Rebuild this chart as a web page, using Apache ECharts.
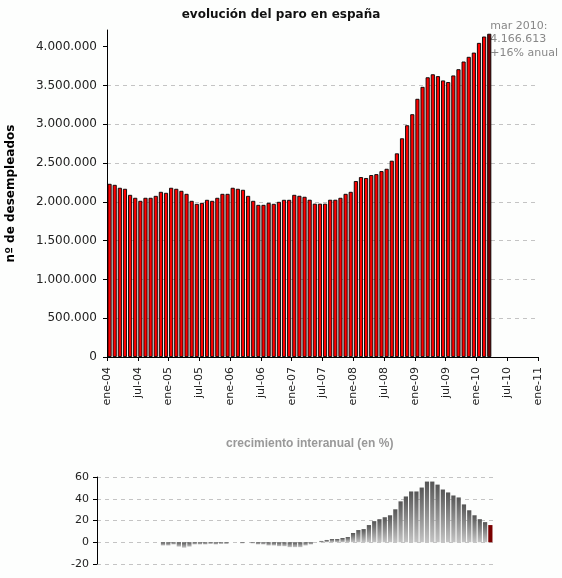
<!DOCTYPE html>
<html><head><meta charset="utf-8">
<script src="https://cdn.jsdelivr.net/npm/echarts@6/dist/echarts.min.js"></script>
<style>html,body{margin:0;padding:0;background:#fdfefd}#c{width:562px;height:578px}</style>
</head><body><div id="c"></div>
<script>
const months = [
 'ene-04','feb-04','mar-04','abr-04','may-04','jun-04','jul-04','ago-04','sep-04','oct-04','nov-04','dic-04',
 'ene-05','feb-05','mar-05','abr-05','may-05','jun-05','jul-05','ago-05','sep-05','oct-05','nov-05','dic-05',
 'ene-06','feb-06','mar-06','abr-06','may-06','jun-06','jul-06','ago-06','sep-06','oct-06','nov-06','dic-06',
 'ene-07','feb-07','mar-07','abr-07','may-07','jun-07','jul-07','ago-07','sep-07','oct-07','nov-07','dic-07',
 'ene-08','feb-08','mar-08','abr-08','may-08','jun-08','jul-08','ago-08','sep-08','oct-08','nov-08','dic-08',
 'ene-09','feb-09','mar-09','abr-09','may-09','jun-09','jul-09','ago-09','sep-09','oct-09','nov-09','dic-09',
 'ene-10','feb-10','mar-10'
];
const unemployed = [
 2232000,2219000,2181000,2168000,2090000,2052000,2013000,2052000,2052000,2077000,2129000,2116000,
 2181000,2168000,2142000,2103000,2013000,1974000,1987000,2026000,2013000,2052000,2103000,2103000,
 2181000,2168000,2155000,2077000,2013000,1961000,1961000,1987000,1974000,2000000,2026000,2026000,
 2090000,2078000,2065000,2027000,1976000,1976000,1976000,2027000,2027000,2052000,2103000,2129000,
 2268000,2319000,2307000,2345000,2357000,2396000,2426000,2530000,2625000,2819000,2987000,3129000,
 3327800,3481900,3605400,3644000,3620100,3564900,3544100,3629100,3709400,3808400,3868900,3923600,
 4048500,4130600,4166613
];
const growth = [
 null,null,null,null,null,null,null,null,null,null,null,null,
 -3,-3,-2,-4,-5,-4,-2,-2,-2,-1.5,-2,-1.5,
 -1.5,0,0,-1,0,-1,-2,-2,-3,-3,-3.6,-3.6,
 -4.5,-4.5,-4.5,-3,-2,0,1.2,2.1,3.0,3.0,3.9,4.8,
 8.5,11.2,12.1,15.8,19.4,21.2,23.0,24.8,30.3,37.6,42.1,46.7,
 46.7,50.3,55.8,55.8,53.0,48.5,45.8,43.0,41.2,34.8,29.4,24.8,
 21.2,18.5,15.8
];
const xTickLabels = ['ene-04','jul-04','ene-05','jul-05','ene-06','jul-06','ene-07','jul-07','ene-08','jul-08','ene-09','jul-09','ene-10','jul-10','ene-11'];
const yTicks = [0,500000,1000000,1500000,2000000,2500000,3000000,3500000,4000000];
const lastLabel = 'mar 2010';

function fmt(n){ return String(Math.round(n)).replace(/\B(?=(\d{3})+(?!\d))/g,'.'); }
const last = unemployed.length - 1;
const annot = lastLabel + ':\n' + fmt(unemployed[last]) + '\n+' + Math.round(growth[last]) + '% anual';

const chart = echarts.init(document.getElementById('c'));
const dash = {color:'#c4c4c4', type:[4,4], width:1};
chart.setOption({
  backgroundColor:'#fdfefd',
  animation:false,
  title:[
    {text:'evolución del paro en españa', left:'center', top:4,
     textStyle:{fontSize:12, fontWeight:'bold', color:'#111', fontFamily:'DejaVu Sans'}},
    {text:'crecimiento interanual (en %)', left:221, top:433,
     textStyle:{fontSize:12, fontWeight:'bold', color:'#999', fontFamily:'Liberation Sans'}}
  ],
  graphic:[{type:'text', right:4, top:19,
    style:{text:annot, font:'11px "DejaVu Sans"', fill:'#888', align:'right', lineHeight:13.5}}],
  grid:[
    {left:107, right:24, top:30, bottom:221, outerBoundsMode:'none', containLabel:false},
    {left:97, right:69, top:477, bottom:14, outerBoundsMode:'none', containLabel:false}
  ],
  xAxis:[
    {type:'value', gridIndex:0, min:0, max:84, interval:6,
     axisLine:{show:true, onZero:false, lineStyle:{color:'#000'}},
     axisTick:{show:true, length:4, lineStyle:{color:'#000'}},
     axisLabel:{rotate:90, fontSize:11, color:'#222', margin:10, fontFamily:'DejaVu Sans',
       formatter:v=>xTickLabels[Math.round(v/6)]},
     splitLine:{show:false}},
    {type:'category', gridIndex:1, data:months, boundaryGap:true,
     axisLine:{show:false}, axisTick:{show:false}, axisLabel:{show:false}, splitLine:{show:false}}
  ],
  yAxis:[
    {type:'value', gridIndex:0, min:0, max:4215000,
     name:'nº de desempleados', nameLocation:'middle', nameGap:90, nameRotate:90,
     nameTextStyle:{fontSize:12, fontWeight:'bold', color:'#000', fontFamily:'DejaVu Sans'},
     axisLine:{show:true, lineStyle:{color:'#000'}},
     axisTick:{show:true, length:4, customValues:yTicks, lineStyle:{color:'#000'}},
     axisLabel:{customValues:yTicks, fontSize:12, color:'#222', margin:10, fontFamily:'DejaVu Sans', formatter:fmt},
     splitLine:{show:true, showMaxLine:false, lineStyle:dash}},
    {type:'value', gridIndex:1, min:-20, max:60, interval:20,
     axisLine:{show:true, lineStyle:{color:'#000'}},
     axisTick:{show:true, length:4, lineStyle:{color:'#000'}},
     axisLabel:{fontSize:11, color:'#222', margin:8, fontFamily:'DejaVu Sans'},
     splitLine:{show:true, lineStyle:dash}}
  ],
  series:[
    {type:'bar', xAxisIndex:0, yAxisIndex:0, barWidth:4.1,
     itemStyle:{color:'#ff0000', borderColor:'#000', borderWidth:0.9},
     data:unemployed.map((v,i)=>i===last?{value:[i+0.5,v], itemStyle:{color:'#7a0000'}}:[i+0.5,v])},
    {type:'bar', xAxisIndex:1, yAxisIndex:1, barWidth:'80%',
     itemStyle:{color:new echarts.graphic.LinearGradient(0,0,0,1,[{offset:0,color:'#555'},{offset:1,color:'#c4c4c4'}])},
     data:growth.map((v,i)=>i===last?{value:v, itemStyle:{color:'#7a0000'}}:v)}
  ]
});
</script></body></html>
